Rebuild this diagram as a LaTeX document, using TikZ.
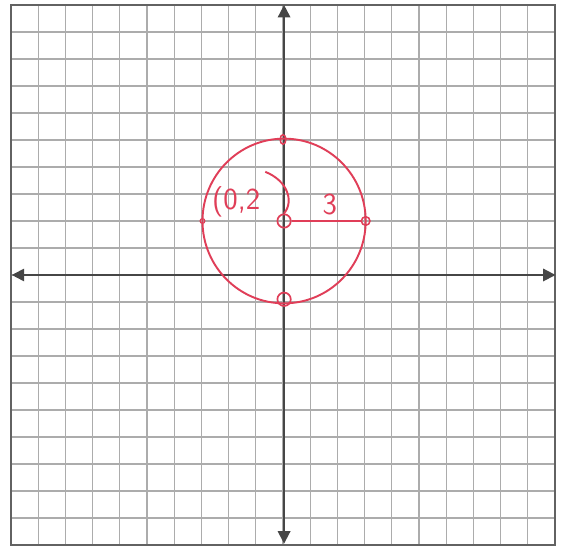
\documentclass[tikz,border=0pt]{standalone}
\usetikzlibrary{arrows.meta,shapes.geometric}
\definecolor{pen}{RGB}{224,62,88}
\definecolor{gridc}{RGB}{172,172,172}
\definecolor{axisc}{RGB}{70,70,70}
\tikzset{
  gridline/.style={draw=gridc, line width=0.6pt},
  frameline/.style={draw=axisc!85, line width=0.9pt},
  axisline/.style={draw=axisc, line width=1pt, {Triangle[length=6.5pt,width=6.5pt]}-{Triangle[length=6.5pt,width=6.5pt]}},
  penline/.style={draw=pen, line width=1pt},
  pentext/.style={text=pen, font=\sffamily\fontsize{16}{16}\selectfont, inner sep=0pt}
}
\begin{document}
\begin{tikzpicture}[x=0.5cm, y=0.4963cm]
\useasboundingbox[fill=white] (-10.404,-10.037) rectangle (10.404,10.185);
% grid
\foreach \i in {-9,...,9} {
  \draw[gridline] (\i,-10) -- (\i,10);
  \draw[gridline] (-10,\i) -- (10,\i);
}
\draw[frameline] (-10,-10) rectangle (10,10);
% axes
\coordinate (xl) at (-9.97,0);
\coordinate (xr) at (10.02,0);
\coordinate (yb) at (0.04,-9.95);
\coordinate (yt) at (0.04,10);
\draw[axisline] (xl) -- (xr);
\draw[axisline] (yb) -- (yt);
% circle
\coordinate (c) at (0.04,2);
\draw[penline] (c) circle [x radius=3, y radius=3.05];
% markers
\node[draw=pen, line width=0.9pt, circle, minimum size=7pt, inner sep=0pt] (cm) at (c) {};
\node[draw=pen, line width=0.8pt, circle, minimum size=4.5pt, inner sep=0pt] (rp) at (3.04,2) {};
\node[draw=pen, line width=0.8pt, ellipse, minimum width=3pt, minimum height=5pt, inner sep=0pt] (tp) at (0,5.02) {};
\node[draw=pen, line width=0.9pt, circle, minimum size=7pt, inner sep=0pt] (bp) at (0.04,-0.9) {};
\node[draw=pen, line width=0.6pt, circle, minimum size=2.5pt, inner sep=0pt] (lp) at (-2.96,2) {};
% radius
\draw[penline] (cm.east) -- (rp.west);
\node[pentext] (r3) at (1.72,2.6) {3};
% label
\node[pentext] (lbl) at (-1.72,2.7) {(0,2};
\draw[penline] (-0.65,3.82) .. controls (0.15,3.5) and (0.42,2.75) .. (cm.north);
\end{tikzpicture}
\end{document}
